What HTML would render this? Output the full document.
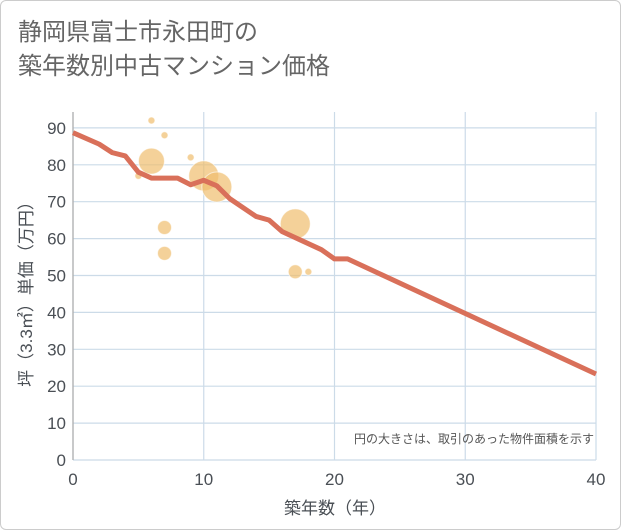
<!DOCTYPE html>
<html><head><meta charset="utf-8"><style>
body{margin:0;background:#fff;}
#wrap{position:relative;width:619px;height:528px;border:1px solid #ccc;border-radius:6px;background:#fff;overflow:hidden;font-family:"Liberation Sans","Noto Sans CJK JP",sans-serif;}
#title{position:absolute;left:17px;top:15px;font-size:24px;line-height:34px;color:#666;}
svg text{font-family:"Liberation Sans","Noto Sans CJK JP",sans-serif;}
</style></head><body>
<div id="wrap">
<div id="title">静岡県富士市永田町の<br>築年数別中古マンション価格</div>
<svg id="c" width="621" height="530" style="position:absolute;left:-1px;top:-1px"></svg>
</div>
<script>
const xTicks=[0,10,20,30,40];
const yTicks=[0,10,20,30,40,50,60,70,80,90];
const lineX=[0,2,3,4,5,6,8,9,10,11,12,14,15,16,19,20,21,40];
const lineY=[88.7,85.6,83.3,82.4,78,76.4,76.4,74.6,75.8,74.3,70.8,66,65,61.9,57,54.5,54.5,23.3];
const bubX=[6,7,6,5,9,10,11,7,7,17,17,18];
const bubY=[92,88,81,77,82,77,74,63,56,64,51,51];
const bubR=[3.5,3.5,13,3.5,3.5,15,15,7,7,15,7,3.5];
const NS="http://www.w3.org/2000/svg";
const svg=document.getElementById('c');
const X=v=>73+v*13.075, Y=v=>460-v*3.69;
function mk(t,a,p){const e=document.createElementNS(NS,t);for(const k in a)e.setAttribute(k,a[k]);(p||svg).appendChild(e);return e;}
yTicks.forEach(v=>{
 const l=mk('line',{x1:73,x2:596,y1:Y(v),y2:Y(v),stroke:'#ccdbe8','stroke-width':1.2});
 
 
 const t=mk('text',{x:66,y:Y(v)+6,'text-anchor':'end','font-size':17,fill:'#4a4f55'});t.textContent=v;
 
 
});
xTicks.forEach(v=>{
 const l=mk('line',{x1:X(v),x2:X(v),y1:112,y2:460,stroke:'#ccdbe8','stroke-width':1.2});
 
 
 const t=mk('text',{x:X(v),y:485,'text-anchor':'middle','font-size':17,fill:'#4a4f55'});t.textContent=v;
 
 
});
const ax=mk('line',{x1:73,x2:73,y1:112,y2:460,stroke:'#aaa','stroke-width':1.2});


bubX.forEach((v,i)=>{
 const c=mk('circle',{cx:X(v),cy:Y(bubY[i]),r:bubR[i],fill:'rgba(240,190,110,0.7)',stroke:'rgba(255,255,255,0.6)','stroke-width':1});
 
 
});
const p=mk('polyline',{points:lineX.map((v,i)=>X(v)+','+Y(lineY[i])).join(' '),fill:'none',stroke:'#d9705a','stroke-width':5,'stroke-linejoin':'round'});


const n=mk('text',{x:594,y:443,'text-anchor':'end','font-size':12,fill:'#555'});n.textContent='円の大きさは、取引のあった物件面積を示す';


const xt=mk('text',{x:335,y:514,'text-anchor':'middle','font-size':17,fill:'#4a4f55'});xt.textContent='築年数（年）';


const yt=mk('text',{x:0,y:0,'text-anchor':'middle','font-size':17,fill:'#4a4f55',transform:'translate(32,290) rotate(-90)'});yt.textContent='坪（3.3㎡）単価（万円）';


</script>
</body></html>
